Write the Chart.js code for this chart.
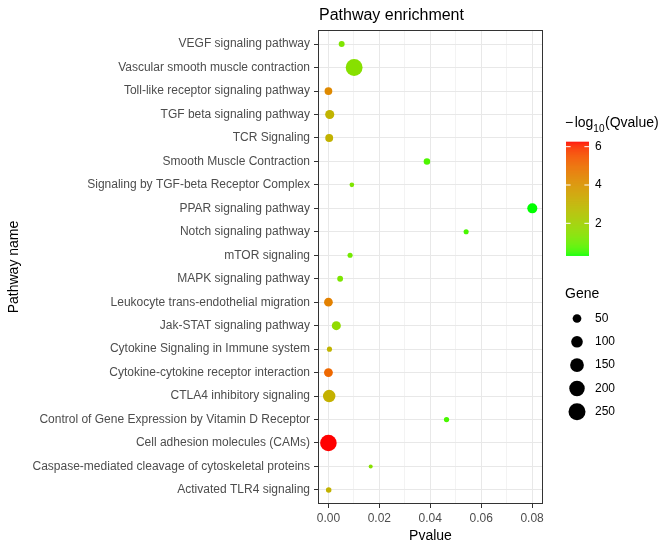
<!DOCTYPE html>
<html><head><meta charset="utf-8">
<script src="https://cdn.jsdelivr.net/npm/chart.js@4.4.1/dist/chart.umd.min.js"></script>
<style>html,body{margin:0;padding:0;background:#fff}canvas{display:block}</style>
</head><body>
<canvas id="c" width="668" height="551"></canvas>
<script>
// ---- data (top to bottom as displayed) ----
const pathways = [
  "VEGF signaling pathway",
  "Vascular smooth muscle contraction",
  "Toll-like receptor signaling pathway",
  "TGF beta signaling pathway",
  "TCR Signaling",
  "Smooth Muscle Contraction",
  "Signaling by TGF-beta Receptor Complex",
  "PPAR signaling pathway",
  "Notch signaling pathway",
  "mTOR signaling",
  "MAPK signaling pathway",
  "Leukocyte trans-endothelial migration",
  "Jak-STAT signaling pathway",
  "Cytokine Signaling in Immune system",
  "Cytokine-cytokine receptor interaction",
  "CTLA4 inhibitory signaling",
  "Control of Gene Expression by Vitamin D Receptor",
  "Cell adhesion molecules (CAMs)",
  "Caspase-mediated cleavage of cytoskeletal proteins",
  "Activated TLR4 signaling"
];
const pvalues = [0.0052, 0.0101, 0.0000, 0.0005, 0.0003, 0.0387, 0.0092, 0.0801, 0.0541, 0.0085,
                 0.0046, 0.0000, 0.0031, 0.0004, 0.0000, 0.0003, 0.0464, 0.0000, 0.0166, 0.0001];
const qvalues = [1.30, 1.45, 4.30, 3.00, 3.05, 0.65, 1.30, 0.31, 0.60, 1.10,
                 1.25, 4.50, 1.65, 3.00, 5.10, 3.10, 0.60, 6.26, 1.45, 3.05];
const genes   = [20, 245, 38, 56, 40, 25, 11, 70, 14, 14,
                 19, 50, 55, 14, 52, 120, 15, 235, 8, 17];
const xTicks = [0, 0.02, 0.04, 0.06, 0.08];
const colorTicks = [2, 4, 6];
const sizeTicks = [50, 100, 150, 200, 250];

// ---- helpers ----
const FONT = '"Liberation Sans", Arial, sans-serif';
function lin(c){c/=255;return c<=0.04045?c/12.92:Math.pow((c+0.055)/1.055,2.4);}
function unlin(c){c=c<=0.0031308?12.92*c:1.055*Math.pow(c,1/2.4)-0.055;return Math.max(0,Math.min(255,Math.round(c*255)));}
function toLab(rgb){
  const R=lin(rgb[0]),G=lin(rgb[1]),B=lin(rgb[2]);
  const X=(0.4124*R+0.3576*G+0.1805*B)/0.95047, Y=(0.2126*R+0.7152*G+0.0722*B), Z=(0.0193*R+0.1192*G+0.9505*B)/1.08883;
  const f=t=>t>0.008856?Math.cbrt(t):7.787*t+16/116;
  const fx=f(X),fy=f(Y),fz=f(Z);
  return [116*fy-16,500*(fx-fy),200*(fy-fz)];
}
function fromLab(l){
  const fy=(l[0]+16)/116, fx=fy+l[1]/500, fz=fy-l[2]/200;
  const fi=t=>t*t*t>0.008856?t*t*t:(t-16/116)/7.787;
  const X=fi(fx)*0.95047,Y=fi(fy),Z=fi(fz)*1.08883;
  const R=3.2406*X-1.5372*Y-0.4986*Z, G=-0.9689*X+1.8758*Y+0.0415*Z, B=0.0557*X-0.2040*Y+1.0570*Z;
  return 'rgb('+unlin(R)+','+unlin(G)+','+unlin(B)+')';
}
const LOW = toLab([0,255,0]), HIGH = toLab([255,0,0]);
const qmin = Math.min(...qvalues), qmax = Math.max(...qvalues);
function colorFor(q){
  const t=Math.max(0,Math.min(1,(q-qmin)/(qmax-qmin)));
  return fromLab([0,1,2].map(i=>LOW[i]+(HIGH[i]-LOW[i])*t));
}
function radiusFor(g){ return 0.855*Math.pow(g,0.416); }
const isMajor = v => xTicks.some(t=>Math.abs(t-v)<1e-9);

// ---- overlay: panel border, title, legends ----
const overlay = {
  id:'overlay',
  afterDraw(chart){
    const ctx=chart.ctx, a=chart.chartArea;
    ctx.save();
    ctx.strokeStyle='#333333'; ctx.lineWidth=1;
    ctx.strokeRect(Math.round(a.left)+0.5, Math.round(a.top)+0.5, Math.round(a.right-a.left)-1, Math.round(a.bottom-a.top)-1);
    // title
    ctx.fillStyle='#000'; ctx.textBaseline='alphabetic'; ctx.textAlign='left';
    ctx.font='16px '+FONT;
    ctx.fillText('Pathway enrichment', a.left+1, 19.5);
    // colour legend title
    ctx.font='14px '+FONT;
    let x=565;
    ctx.fillText('\u2212', x, 127); x+=ctx.measureText('\u2212').width+1.5;
    ctx.fillText('log', x, 127); x+=ctx.measureText('log').width;
    ctx.font='10px '+FONT;
    ctx.fillText('10', x, 131.5); x+=ctx.measureText('10').width+0.5;
    ctx.font='14px '+FONT;
    ctx.fillText('(Qvalue)', x, 127);
    // colour bar
    const bx=566, bw=23, btop=141.7, bh=114;
    for(let i=0;i<bh;i++){
      const q=qmax-(i+0.5)/bh*(qmax-qmin);
      ctx.fillStyle=colorFor(q);
      ctx.fillRect(bx, btop+i, bw, 1.2);
    }
    ctx.strokeStyle='#fff'; ctx.lineWidth=1;
    ctx.font='12px '+FONT; ctx.textBaseline='middle';
    colorTicks.forEach(t=>{
      const y=btop+bh-(t-qmin)/(qmax-qmin)*bh;
      ctx.beginPath();
      ctx.moveTo(bx,y); ctx.lineTo(bx+4.6,y);
      ctx.moveTo(bx+bw-4.6,y); ctx.lineTo(bx+bw,y);
      ctx.stroke();
      ctx.fillStyle='#000';
      ctx.fillText(String(t), 595, y);
    });
    // size legend
    ctx.textBaseline='alphabetic'; ctx.font='14px '+FONT; ctx.fillStyle='#000';
    ctx.fillText('Gene', 565, 298);
    ctx.font='12px '+FONT; ctx.textBaseline='middle';
    sizeTicks.forEach((g,i)=>{
      const y=318.5+i*23.3;
      ctx.fillStyle='#000';
      ctx.beginPath(); ctx.arc(577, y, radiusFor(g), 0, Math.PI*2); ctx.fill();
      ctx.fillText(String(g), 595, y);
    });
    ctx.restore();
  }
};

const points = pathways.map((p,i)=>({x:pvalues[i], y:i, r:radiusFor(genes[i])}));

new Chart(document.getElementById('c'), {
  type:'bubble',
  data:{datasets:[{
    data:points,
    backgroundColor:qvalues.map(colorFor),
    borderWidth:0,
    hoverBorderWidth:0
  }]},
  options:{
    responsive:false, animation:false, devicePixelRatio:1,
    events:[],
    layout:{padding:{top:30,right:125,bottom:0,left:0}},
    plugins:{legend:{display:false},tooltip:{enabled:false},title:{display:false}},
    scales:{
      x:{
        type:'linear', min:-0.0041, max:0.0843,
        afterFit(s){ s.height=47; },
        border:{display:false},
        grid:{
          color:c=>isMajor(c.tick.value)?'#E8E8E8':'#F3F3F3',
          lineWidth:1,
          drawTicks:true, tickLength:4,
          tickColor:c=>isMajor(c.tick.value)?'#333333':'rgba(0,0,0,0)'
        },
        ticks:{
          stepSize:0.01, includeBounds:false, autoSkip:false, maxRotation:0, padding:3,
          color:'#4D4D4D', font:{family:FONT,size:12},
          callback:v=>isMajor(v)?v.toFixed(2):''
        },
        title:{display:true,text:'Pvalue',color:'#000',font:{family:FONT,size:14},padding:{top:0,bottom:6}}
      },
      y:{
        type:'linear', reverse:true, min:-0.6, max:19.6,
        afterFit(s){ s.width=318; },
        border:{display:false},
        grid:{color:'#E8E8E8', lineWidth:1, drawTicks:true, tickLength:4, tickColor:'#333333'},
        ticks:{
          stepSize:1, includeBounds:false, autoSkip:false, padding:4,
          color:'#4D4D4D', font:{family:FONT,size:12},
          callback:v=>Number.isInteger(v)&&pathways[v]!==undefined?pathways[v]:''
        },
        title:{display:true,text:'Pathway name',color:'#000',font:{family:FONT,size:14},padding:{top:6,bottom:0}}
      }
    }
  },
  plugins:[overlay]
});
</script>
</body></html>
